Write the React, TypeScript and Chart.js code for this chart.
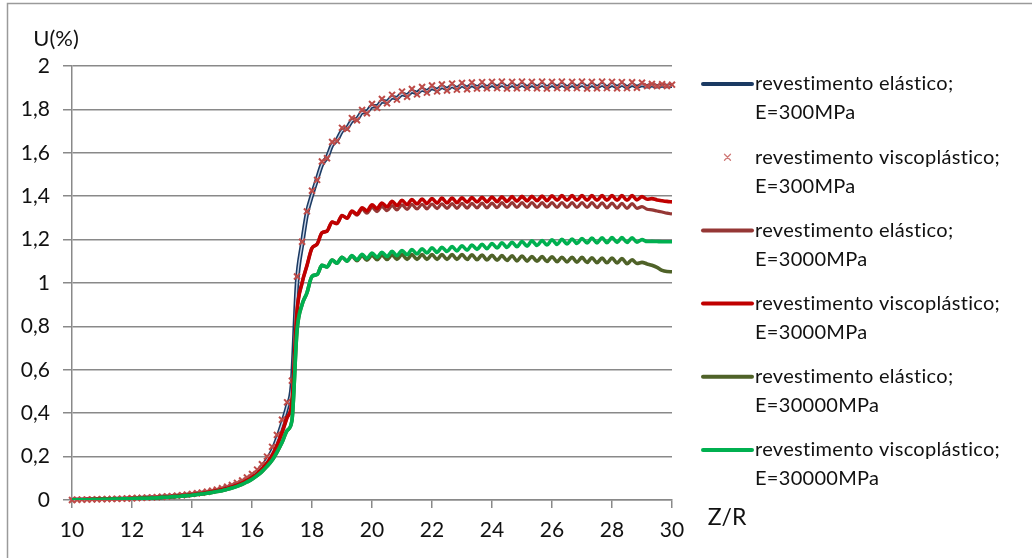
import React, { useEffect, useRef } from 'react';
import { Chart, registerables } from 'chart.js';

Chart.register(...registerables);

const FONT = 'Lato, "Liberation Sans", sans-serif';
const GRID = '#898989';

// Z/R sampling positions (step of 1/6)
const zr = [
  10, 10.17, 10.33, 10.5, 10.67, 10.83,
  11, 11.17, 11.33, 11.5, 11.67, 11.83,
  12, 12.17, 12.33, 12.5, 12.67, 12.83,
  13, 13.17, 13.33, 13.5, 13.67, 13.83,
  14, 14.17, 14.33, 14.5, 14.67, 14.83,
  15, 15.17, 15.33, 15.5, 15.67, 15.83,
  16, 16.17, 16.33, 16.5, 16.67, 16.83,
  17, 17.17, 17.33, 17.5, 17.67, 17.83,
  18, 18.17, 18.33, 18.5, 18.67, 18.83,
  19, 19.17, 19.33, 19.5, 19.67, 19.83,
  20, 20.17, 20.33, 20.5, 20.67, 20.83,
  21, 21.17, 21.33, 21.5, 21.67, 21.83,
  22, 22.17, 22.33, 22.5, 22.67, 22.83,
  23, 23.17, 23.33, 23.5, 23.67, 23.83,
  24, 24.17, 24.33, 24.5, 24.67, 24.83,
  25, 25.17, 25.33, 25.5, 25.67, 25.83,
  26, 26.17, 26.33, 26.5, 26.67, 26.83,
  27, 27.17, 27.33, 27.5, 27.67, 27.83,
  28, 28.17, 28.33, 28.5, 28.67, 28.83,
  29, 29.17, 29.33, 29.5, 29.67, 29.83,
  30,
];

// U(%) — revestimento elástico, E=300MPa
const elastico300 = [
  0, 0.001, 0.001, 0.002, 0.002, 0.003,
  0.003, 0.004, 0.004, 0.005, 0.005, 0.006,
  0.007, 0.008, 0.009, 0.010, 0.011, 0.012,
  0.014, 0.015, 0.017, 0.019, 0.021, 0.023,
  0.026, 0.029, 0.032, 0.036, 0.040, 0.045,
  0.050, 0.057, 0.064, 0.073, 0.083, 0.096,
  0.111, 0.13, 0.153, 0.185, 0.225, 0.28,
  0.35, 0.43, 0.53, 1.0, 1.18, 1.32,
  1.406, 1.479, 1.546, 1.579, 1.636, 1.659,
  1.701, 1.714, 1.748, 1.756, 1.786, 1.789,
  1.814, 1.814, 1.837, 1.835, 1.856, 1.852,
  1.871, 1.865, 1.883, 1.876, 1.892, 1.884,
  1.899, 1.89, 1.904, 1.894, 1.908, 1.898,
  1.911, 1.9, 1.913, 1.902, 1.914, 1.902,
  1.914, 1.903, 1.915, 1.902, 1.914, 1.903,
  1.915, 1.902, 1.914, 1.903, 1.915, 1.902,
  1.914, 1.903, 1.915, 1.902, 1.914, 1.903,
  1.915, 1.902, 1.914, 1.903, 1.915, 1.902,
  1.914, 1.903, 1.915, 1.902, 1.914, 1.904,
  1.913, 1.907, 1.911, 1.907, 1.91, 1.908,
  1.909,
];

// U(%) — revestimento viscoplástico, E=300MPa
const viscoplastico300 = [
  0, 0.001, 0.002, 0.002, 0.003, 0.003,
  0.004, 0.004, 0.005, 0.005, 0.006, 0.007,
  0.008, 0.009, 0.010, 0.011, 0.012, 0.013,
  0.015, 0.016, 0.018, 0.020, 0.022, 0.025,
  0.028, 0.031, 0.034, 0.038, 0.043, 0.048,
  0.054, 0.061, 0.069, 0.079, 0.090, 0.104,
  0.12, 0.14, 0.165, 0.2, 0.245, 0.3,
  0.37, 0.45, 0.55, 1.03, 1.19, 1.33,
  1.425, 1.475, 1.56, 1.575, 1.65, 1.655,
  1.715, 1.71, 1.76, 1.75, 1.797, 1.782,
  1.825, 1.807, 1.848, 1.828, 1.867, 1.845,
  1.882, 1.858, 1.894, 1.869, 1.903, 1.877,
  1.91, 1.883, 1.915, 1.887, 1.919, 1.891,
  1.922, 1.893, 1.924, 1.896, 1.926, 1.897,
  1.927, 1.898, 1.928, 1.896, 1.927, 1.897,
  1.928, 1.898, 1.927, 1.897, 1.928, 1.896,
  1.927, 1.898, 1.928, 1.897, 1.927, 1.898,
  1.928, 1.896, 1.927, 1.897, 1.928, 1.898,
  1.927, 1.897, 1.926, 1.898, 1.925, 1.9,
  1.923, 1.907, 1.917, 1.907, 1.916, 1.908,
  1.914,
];

// U(%) — revestimento elástico, E=3000MPa
const elastico3000 = [
  0, 0.001, 0.001, 0.002, 0.002, 0.003,
  0.003, 0.004, 0.004, 0.005, 0.005, 0.006,
  0.007, 0.007, 0.008, 0.009, 0.010, 0.011,
  0.013, 0.014, 0.016, 0.018, 0.020, 0.022,
  0.024, 0.027, 0.030, 0.034, 0.038, 0.042,
  0.047, 0.053, 0.060, 0.068, 0.078, 0.090,
  0.104, 0.121, 0.143, 0.17, 0.205, 0.25,
  0.31, 0.38, 0.45, 0.87, 1.001, 1.079,
  1.161, 1.179, 1.231, 1.239, 1.281, 1.274,
  1.311, 1.299, 1.329, 1.313, 1.34, 1.322,
  1.348, 1.329, 1.353, 1.333, 1.357, 1.337,
  1.36, 1.339, 1.362, 1.341, 1.363, 1.342,
  1.364, 1.343, 1.365, 1.344, 1.366, 1.344,
  1.367, 1.345, 1.367, 1.346, 1.368, 1.346,
  1.368, 1.347, 1.37, 1.348, 1.37, 1.348,
  1.37, 1.348, 1.371, 1.348, 1.37, 1.349,
  1.37, 1.348, 1.371, 1.348, 1.37, 1.348,
  1.37, 1.348, 1.37, 1.347, 1.369, 1.346,
  1.368, 1.345, 1.367, 1.344, 1.366, 1.344,
  1.352, 1.34, 1.337, 1.332, 1.327, 1.322,
  1.318,
];

// U(%) — revestimento viscoplástico, E=3000MPa
const viscoplastico3000 = [
  0, 0.001, 0.001, 0.002, 0.002, 0.003,
  0.003, 0.004, 0.004, 0.005, 0.005, 0.006,
  0.007, 0.007, 0.008, 0.009, 0.010, 0.011,
  0.013, 0.014, 0.016, 0.018, 0.020, 0.022,
  0.024, 0.027, 0.030, 0.034, 0.038, 0.042,
  0.047, 0.053, 0.060, 0.068, 0.078, 0.090,
  0.104, 0.121, 0.143, 0.17, 0.205, 0.25,
  0.31, 0.38, 0.45, 0.87, 1.001, 1.079,
  1.161, 1.179, 1.231, 1.239, 1.281, 1.274,
  1.311, 1.299, 1.331, 1.317, 1.347, 1.332,
  1.36, 1.343, 1.369, 1.351, 1.376, 1.357,
  1.381, 1.361, 1.385, 1.364, 1.387, 1.366,
  1.389, 1.368, 1.391, 1.369, 1.392, 1.37,
  1.393, 1.372, 1.394, 1.373, 1.395, 1.374,
  1.396, 1.375, 1.397, 1.376, 1.398, 1.377,
  1.399, 1.378, 1.4, 1.379, 1.401, 1.379,
  1.402, 1.381, 1.403, 1.381, 1.403, 1.381,
  1.403, 1.381, 1.403, 1.381, 1.403, 1.381,
  1.403, 1.381, 1.403, 1.381, 1.403, 1.383,
  1.398, 1.386, 1.389, 1.383, 1.379, 1.376,
  1.374,
];

// U(%) — revestimento elástico, E=30000MPa
const elastico30000 = [
  0, 0.001, 0.001, 0.001, 0.002, 0.002,
  0.003, 0.003, 0.004, 0.004, 0.005, 0.005,
  0.006, 0.007, 0.008, 0.008, 0.009, 0.010,
  0.012, 0.013, 0.015, 0.016, 0.018, 0.020,
  0.022, 0.025, 0.028, 0.031, 0.035, 0.039,
  0.043, 0.049, 0.055, 0.063, 0.072, 0.083,
  0.096, 0.112, 0.131, 0.155, 0.183, 0.22,
  0.265, 0.32, 0.365, 0.78, 0.901, 0.954,
  1.031, 1.039, 1.081, 1.074, 1.106, 1.091,
  1.119, 1.101, 1.124, 1.103, 1.126, 1.105,
  1.128, 1.107, 1.129, 1.108, 1.13, 1.109,
  1.131, 1.109, 1.131, 1.109, 1.131, 1.109,
  1.131, 1.109, 1.131, 1.109, 1.131, 1.109,
  1.131, 1.108, 1.13, 1.107, 1.129, 1.106,
  1.128, 1.105, 1.126, 1.104, 1.125, 1.102,
  1.124, 1.101, 1.122, 1.1, 1.122, 1.099,
  1.121, 1.098, 1.119, 1.097, 1.119, 1.096,
  1.118, 1.095, 1.116, 1.094, 1.115, 1.093,
  1.115, 1.092, 1.113, 1.089, 1.107, 1.09,
  1.095, 1.088, 1.082, 1.072, 1.058, 1.053,
  1.052,
];

// U(%) — revestimento viscoplástico, E=30000MPa
const viscoplastico30000 = [
  0, 0.001, 0.001, 0.001, 0.002, 0.002,
  0.003, 0.003, 0.004, 0.004, 0.005, 0.005,
  0.006, 0.007, 0.008, 0.008, 0.009, 0.010,
  0.012, 0.013, 0.015, 0.016, 0.018, 0.020,
  0.022, 0.025, 0.028, 0.031, 0.035, 0.039,
  0.043, 0.049, 0.055, 0.063, 0.072, 0.083,
  0.096, 0.112, 0.131, 0.155, 0.183, 0.22,
  0.265, 0.32, 0.365, 0.78, 0.901, 0.954,
  1.031, 1.039, 1.081, 1.074, 1.106, 1.091,
  1.119, 1.101, 1.126, 1.107, 1.132, 1.113,
  1.138, 1.118, 1.142, 1.122, 1.146, 1.126,
  1.15, 1.13, 1.154, 1.134, 1.158, 1.138,
  1.162, 1.141, 1.165, 1.145, 1.168, 1.148,
  1.172, 1.151, 1.175, 1.155, 1.178, 1.158,
  1.182, 1.161, 1.185, 1.164, 1.188, 1.167,
  1.191, 1.17, 1.194, 1.173, 1.196, 1.175,
  1.199, 1.178, 1.201, 1.18, 1.203, 1.182,
  1.205, 1.184, 1.207, 1.185, 1.208, 1.186,
  1.209, 1.187, 1.209, 1.187, 1.208, 1.188,
  1.2, 1.191, 1.192, 1.191, 1.19, 1.19,
  1.19,
];

const xTickLabels = ['10', '12', '14', '16', '18', '20', '22', '24', '26', '28', '30'];
const yTickLabels = ['0', '0,2', '0,4', '0,6', '0,8', '1', '1,2', '1,4', '1,6', '1,8', '2'];
const yTitle = 'U(%)';
const xTitle = 'Z/R';

const legendTypes = ['revestimento elástico;', 'revestimento viscoplástico;', 'revestimento elástico;', 'revestimento viscoplástico;', 'revestimento elástico;', 'revestimento viscoplástico;'];
const legendModuli = ['E=300MPa', 'E=300MPa', 'E=3000MPa', 'E=3000MPa', 'E=30000MPa', 'E=30000MPa'];
const seriesColors = ['#1B3A63', '#BE4B48', '#953735', '#C00000', '#4F6228', '#00B050'];

const toPoints = (ys: number[]) => ys.map((y, i) => ({ x: zr[i], y }));

const decorPlugin = {
  id: 'decor',
  beforeDraw(chart: any) {
    const ctx = chart.ctx;
    ctx.save();
    ctx.fillStyle = '#ffffff';
    ctx.fillRect(0, 0, chart.width, chart.height);
    ctx.restore();
  },
  afterDraw(chart: any) {
    const ctx = chart.ctx;
    const area = chart.chartArea;
    ctx.save();
    // outer frame (top and left edges)
    ctx.strokeStyle = '#9a9a9a';
    ctx.lineWidth = 1.5;
    ctx.beginPath();
    ctx.moveTo(7.5, chart.height);
    ctx.lineTo(7.5, 3.5);
    ctx.lineTo(chart.width, 3.5);
    ctx.stroke();

    // axis titles
    ctx.fillStyle = '#111';
    ctx.textBaseline = 'middle';
    ctx.textAlign = 'center';
    ctx.font = `22px ${FONT}`;
    ctx.fillText(yTitle, 56, area.top - 27);
    ctx.font = `23px ${FONT}`;
    ctx.fillText(xTitle, area.right + 55, area.bottom + 18);

    // legend
    const lx0 = area.right + 31;
    const lx1 = area.right + 80;
    const tx = area.right + 83;
    ctx.textAlign = 'left';
    ctx.font = `20px ${FONT}`;
    // a small letter spacing keeps the "ti" pairs unligated
    if ('letterSpacing' in ctx) (ctx as any).letterSpacing = '0.3px';
    for (let i = 0; i < legendTypes.length; i++) {
      const y = 84 + i * 73.2;
      if (i === 1) {
        const cx = (lx0 + lx1) / 2;
        ctx.strokeStyle = '#D07a78';
        ctx.lineWidth = 1.3;
        ctx.beginPath();
        ctx.moveTo(cx - 3, y - 3);
        ctx.lineTo(cx + 3, y + 3);
        ctx.moveTo(cx - 3, y + 3);
        ctx.lineTo(cx + 3, y - 3);
        ctx.stroke();
      } else {
        ctx.strokeStyle = seriesColors[i];
        ctx.lineWidth = 4;
        ctx.lineCap = 'round';
        ctx.beginPath();
        ctx.moveTo(lx0, y);
        ctx.lineTo(lx1, y);
        ctx.stroke();
      }
      ctx.fillStyle = '#111';
      ctx.fillText(legendTypes[i], tx, y);
      ctx.fillText(legendModuli[i], tx, y + 29);
    }
    ctx.restore();
  },
};

export default function App() {
  const canvasRef = useRef<HTMLCanvasElement | null>(null);

  useEffect(() => {
    if (!canvasRef.current) return;
    const line = (label: string, ys: number[], color: string, width: number, order: number) => ({
      label,
      data: toPoints(ys),
      borderColor: color,
      backgroundColor: color,
      borderWidth: width,
      pointRadius: 0,
      cubicInterpolationMode: 'monotone' as const,
      fill: false,
      order,
    });

    const chart = new Chart(canvasRef.current, {
      type: 'line',
      data: {
        datasets: [
          line(`${legendTypes[0]} ${legendModuli[0]}`, elastico300, seriesColors[0], 4.5, 7),
          line('', elastico300, '#c9d5e8', 1.4, 6),
          {
            label: `${legendTypes[1]} ${legendModuli[1]}`,
            data: toPoints(viscoplastico300),
            showLine: false,
            pointStyle: 'crossRot',
            pointRadius: 4.2,
            pointBorderWidth: 2,
            pointBorderColor: seriesColors[1],
            pointBackgroundColor: seriesColors[1],
            borderColor: seriesColors[1],
            clip: false,
            order: 5,
          },
          line(`${legendTypes[2]} ${legendModuli[2]}`, elastico3000, seriesColors[2], 3.2, 4),
          line(`${legendTypes[3]} ${legendModuli[3]}`, viscoplastico3000, seriesColors[3], 3.6, 3),
          line(`${legendTypes[4]} ${legendModuli[4]}`, elastico30000, seriesColors[4], 3.6, 2),
          line(`${legendTypes[5]} ${legendModuli[5]}`, viscoplastico30000, seriesColors[5], 3.6, 1),
        ] as any,
      },
      options: {
        responsive: false,
        animation: false,
        devicePixelRatio: 1,
        layout: { padding: { top: 66, right: 360, left: 0, bottom: 0 } },
        plugins: {
          legend: { display: false },
          tooltip: { enabled: false },
        },
        scales: {
          x: {
            type: 'linear',
            min: 10,
            max: 30,
            afterFit: (s: any) => { s.height = 58; },
            ticks: {
              stepSize: 2,
              padding: 10,
              color: '#111',
              font: { family: FONT, size: 21 },
              maxRotation: 0,
              autoSkip: false,
              callback: (_v: any, i: number) => xTickLabels[i],
            },
            grid: { drawOnChartArea: false, drawTicks: true, tickLength: 8, color: GRID, lineWidth: 1.5 },
            border: { display: true, color: GRID, width: 1.5 },
          },
          y: {
            type: 'linear',
            min: 0,
            max: 2,
            afterFit: (s: any) => { s.width = 72; },
            ticks: {
              stepSize: 0.2,
              padding: 13,
              color: '#111',
              font: { family: FONT, size: 21 },
              callback: (_v: any, i: number) => yTickLabels[i],
            },
            grid: { color: GRID, lineWidth: 1.5, tickLength: 9 },
            border: { display: true, color: GRID, width: 1.5 },
          },
        },
      },
      plugins: [decorPlugin],
    });
    return () => chart.destroy();
  }, []);

  return (
    <div style={{ position: 'absolute', left: 0, top: 0, width: 1032, height: 558, background: '#fff' }}>
      <canvas ref={canvasRef} width={1032} height={558} style={{ display: 'block' }} />
    </div>
  );
}
